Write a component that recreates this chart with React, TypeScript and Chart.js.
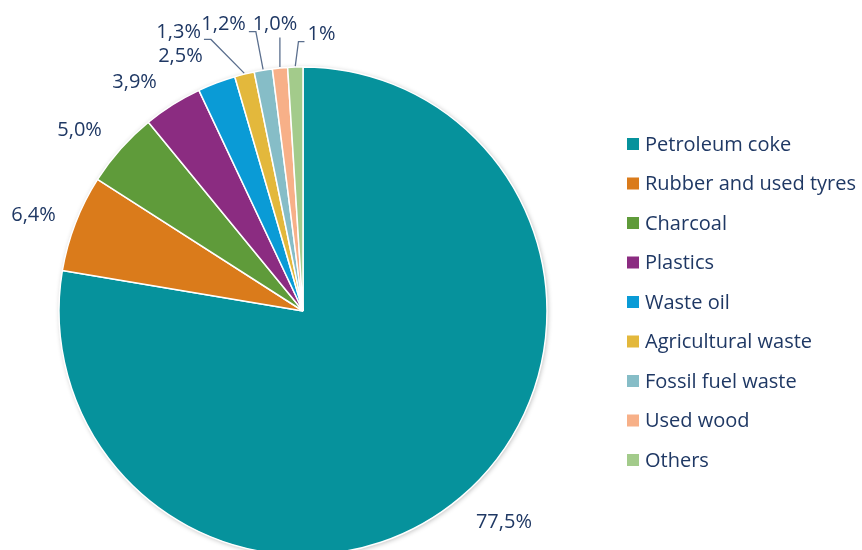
import React, { useEffect, useRef } from "react";
import { Chart, registerables } from "chart.js";

Chart.register(...registerables);

const CATEGORIES = [
  "Petroleum coke",
  "Rubber and used tyres",
  "Charcoal",
  "Plastics",
  "Waste oil",
  "Agricultural waste",
  "Fossil fuel waste",
  "Used wood",
  "Others",
];
const VALUES = [77.5, 6.4, 5.0, 3.9, 2.5, 1.3, 1.2, 1.0, 1];
const VALUE_LABELS = ["77,5%", "6,4%", "5,0%", "3,9%", "2,5%", "1,3%", "1,2%", "1,0%", "1%"];
const COLORS = [
  "#06929C",
  "#DA7B1B",
  "#5F9B3A",
  "#8B2C81",
  "#0A9BD6",
  "#E3B83C",
  "#86BDC7",
  "#F7B088",
  "#A3CB8B",
];

// style: label nudges (dx, dy) from default outside position, and leader flags
const LABEL_NUDGE: [number, number][] = [
  [13, -1.6],
  [2, 4.4],
  [-6, 4.6],
  [-13, 7.3],
  [-19.5, 6.5],
  [-54.5, -7.7],
  [-32, -11.2],
  [-0.6, -8.7],
  [27.6, 2.4],
];
const HAS_LEADER = [false, false, false, false, false, true, true, true, true];

const TEXT_COLOR = "#1F3864";
const FONT = "500 20px 'Open Sans', sans-serif";
const LABEL_GAP = 25;
const HALF_BOX: [number, number] = [22, 10];

const shadowPlugin = {
  id: "pieShadow",
  beforeDatasetsDraw(chart: any) {
    const meta = chart.getDatasetMeta(0);
    const arc = meta.data[0];
    if (!arc) return;
    const { x, y, outerRadius } = arc.getProps(["x", "y", "outerRadius"], true);
    const ctx = chart.ctx;
    ctx.save();
    ctx.shadowColor = "rgba(0,0,0,0.28)";
    ctx.shadowBlur = 5;
    ctx.shadowOffsetX = 1;
    ctx.shadowOffsetY = 1;
    ctx.fillStyle = "#ffffff";
    ctx.beginPath();
    ctx.arc(x, y, outerRadius, 0, Math.PI * 2);
    ctx.fill();
    ctx.restore();
  },
};

const labelPlugin = {
  id: "pieLabels",
  afterDatasetsDraw(chart: any) {
    const meta = chart.getDatasetMeta(0);
    const ctx = chart.ctx;
    ctx.save();
    ctx.font = FONT;
    ctx.textAlign = "center";
    ctx.textBaseline = "middle";
    meta.data.forEach((arc: any, i: number) => {
      const { x, y, startAngle, endAngle, outerRadius } = arc.getProps(
        ["x", "y", "startAngle", "endAngle", "outerRadius"],
        true
      );
      const mid = (startAngle + endAngle) / 2;
      const text = VALUE_LABELS[i];
      const w = ctx.measureText(text).width;
      const r = outerRadius + LABEL_GAP;
      const c = Math.cos(mid);
      const s = Math.sin(mid);
      const lx = x + c * (r + HALF_BOX[0]) + LABEL_NUDGE[i][0];
      const ly = y + s * (r + HALF_BOX[1]) + LABEL_NUDGE[i][1];
      if (HAS_LEADER[i]) {
        const ax = x + c * (outerRadius + 1);
        const ay = y + s * (outerRadius + 1);
        const left = lx - w / 2;
        const right = lx + w / 2;
        ctx.strokeStyle = "#5B6F8E";
        ctx.lineWidth = 1.3;
        ctx.beginPath();
        const sy = ly + 7;
        if (ax > right + 2) {
          ctx.moveTo(right + 3, sy);
          ctx.lineTo(right + 10, sy);
          ctx.lineTo(ax, ay);
        } else if (ax < left - 2) {
          ctx.moveTo(left - 3, sy);
          ctx.lineTo(left - 9, sy);
          ctx.lineTo(ax, ay);
        } else {
          ctx.moveTo(ax, ly + 13);
          ctx.lineTo(ax, ay);
        }
        ctx.stroke();
      }
      ctx.fillStyle = TEXT_COLOR;
      ctx.fillText(text, lx, ly);
    });
    ctx.restore();
  },
};

const legendPlugin = {
  id: "customLegend",
  afterDraw(chart: any) {
    const ctx = chart.ctx;
    ctx.save();
    ctx.font = FONT;
    ctx.textAlign = "left";
    ctx.textBaseline = "middle";
    const x0 = 627;
    const y0 = 144;
    const step = 39.5;
    CATEGORIES.forEach((name, i) => {
      const cy = y0 + i * step;
      ctx.fillStyle = COLORS[i];
      ctx.fillRect(x0, cy - 6, 12, 12);
      ctx.fillStyle = TEXT_COLOR;
      ctx.fillText(name, x0 + 18, cy + 1);
    });
    ctx.restore();
  },
};

export default function App() {
  const ref = useRef<HTMLCanvasElement | null>(null);
  useEffect(() => {
    if (!ref.current) return;
    const chart = new Chart(ref.current, {
      type: "pie",
      data: {
        labels: CATEGORIES,
        datasets: [
          {
            data: VALUES,
            backgroundColor: COLORS,
            borderColor: "#ffffff",
            borderWidth: 1.5,
          },
        ],
      },
      options: {
        animation: false,
        responsive: false,
        maintainAspectRatio: false,
        radius: 244,
        layout: { padding: { left: 59, right: 315, top: 67, bottom: 5 } },
        plugins: {
          legend: { display: false },
          tooltip: { enabled: false },
        },
      } as any,
      plugins: [shadowPlugin, labelPlugin, legendPlugin],
    });
    return () => chart.destroy();
  }, []);
  return (
    <canvas
      ref={ref}
      width={862}
      height={560}
      style={{ position: "fixed", left: 0, top: 0, width: 862, height: 560 }}
    />
  );
}
